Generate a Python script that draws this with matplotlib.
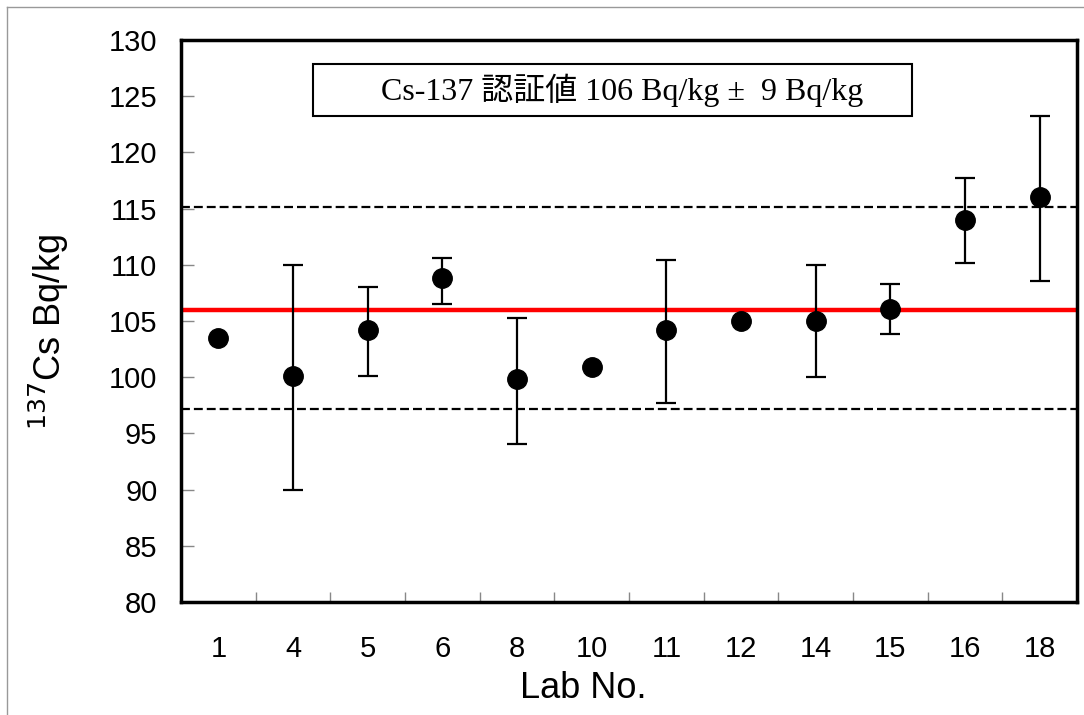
import matplotlib
matplotlib.use("Agg")
import matplotlib.pyplot as plt
from matplotlib.lines import Line2D
from matplotlib.patches import Rectangle

# data
labs = ["1", "4", "5", "6", "8", "10", "11", "12", "14", "15", "16", "18"]
values = [103.5, 100.1, 104.2, 108.8, 99.8, 100.9, 104.2, 105.0, 105.0, 106.1, 114.0, 116.0]
err_upper = [None, 110.0, 108.0, 110.6, 105.3, None, 110.4, None, 110.0, 108.3, 117.7, 123.2]
err_lower = [None, 90.0, 100.1, 106.5, 94.1, None, 97.7, None, 100.0, 103.8, 110.2, 108.6]
certified = 106.0
limit_hi = 115.1
limit_lo = 97.2
box_text = "Cs-137 認証値 106 Bq/kg ±  9 Bq/kg"

sans = ["Liberation Sans", "DejaVu Sans"]

fig = plt.figure(figsize=(10.84, 7.15), dpi=100)
ax = fig.add_axes([181/1084, 1 - 602/715, 896/1084, 562/715])

x = list(range(len(labs)))

# reference lines
ax.axhline(certified, color="#ff0000", lw=3.2, zorder=2)
ax.axhline(limit_hi, color="black", lw=1.6, ls=(0, (4, 1.8)), zorder=1)
ax.axhline(limit_lo, color="black", lw=1.6, ls=(0, (4, 1.8)), zorder=1)

# error bars only where given
ex, ey, elo, ehi = [], [], [], []
for i in range(len(labs)):
    if err_upper[i] is not None:
        ex.append(x[i])
        ey.append(values[i])
        elo.append(values[i] - err_lower[i])
        ehi.append(err_upper[i] - values[i])
ax.errorbar(ex, ey, yerr=[elo, ehi], fmt="none", ecolor="black",
            elinewidth=1.6, capsize=7, capthick=1.6, zorder=3)
ax.plot(x, values, "o", color="black", markersize=14, zorder=4)

ax.set_xlim(-0.5, len(labs) - 0.5)
ax.set_ylim(80, 130)
ax.set_yticks(range(80, 131, 5))

ax.set_xticks(x)
ax.set_xticklabels(labs, family=sans, fontsize=21)
ax.set_xticks([i + 0.5 for i in x[:-1]], minor=True)
ax.tick_params(axis="x", which="major", length=0, pad=24)
ax.tick_params(axis="x", which="minor", direction="in", length=7, width=1, color="#888888")
ax.tick_params(axis="y", direction="in", length=9, width=1, color="#888888", pad=17)
for lab in ax.get_yticklabels():
    lab.set_family(sans)
    lab.set_fontsize(21)

for sp in ax.spines.values():
    sp.set_linewidth(2.5)
    sp.set_color("black")

ax.set_xlabel("Lab No.", family=sans, fontsize=26)
ax.xaxis.set_label_coords(0.449, -0.122)
ax.set_ylabel("$^{137}$Cs Bq/kg", family=sans, fontsize=26)
ax.yaxis.set_label_coords(-0.123, 0.48)

# certified value box
ax.add_patch(Rectangle((0.147, 0.865), 0.669, 0.092, transform=ax.transAxes,
                       fc="white", ec="black", lw=1.5, zorder=5))
ax.text(0.492, 0.911, box_text, transform=ax.transAxes, ha="center", va="center",
        family=["Liberation Serif", "Noto Sans CJK JP"], fontsize=23, zorder=6)

# outer grey frame of the picture
fig.add_artist(Line2D([7/1084, 7/1084], [0, 1 - 7/715], color="#999999", lw=1,
                      transform=fig.transFigure))
fig.add_artist(Line2D([7/1084, 1], [1 - 7/715, 1 - 7/715], color="#999999", lw=1,
                      transform=fig.transFigure))

fig.savefig("out.png", dpi=100)
